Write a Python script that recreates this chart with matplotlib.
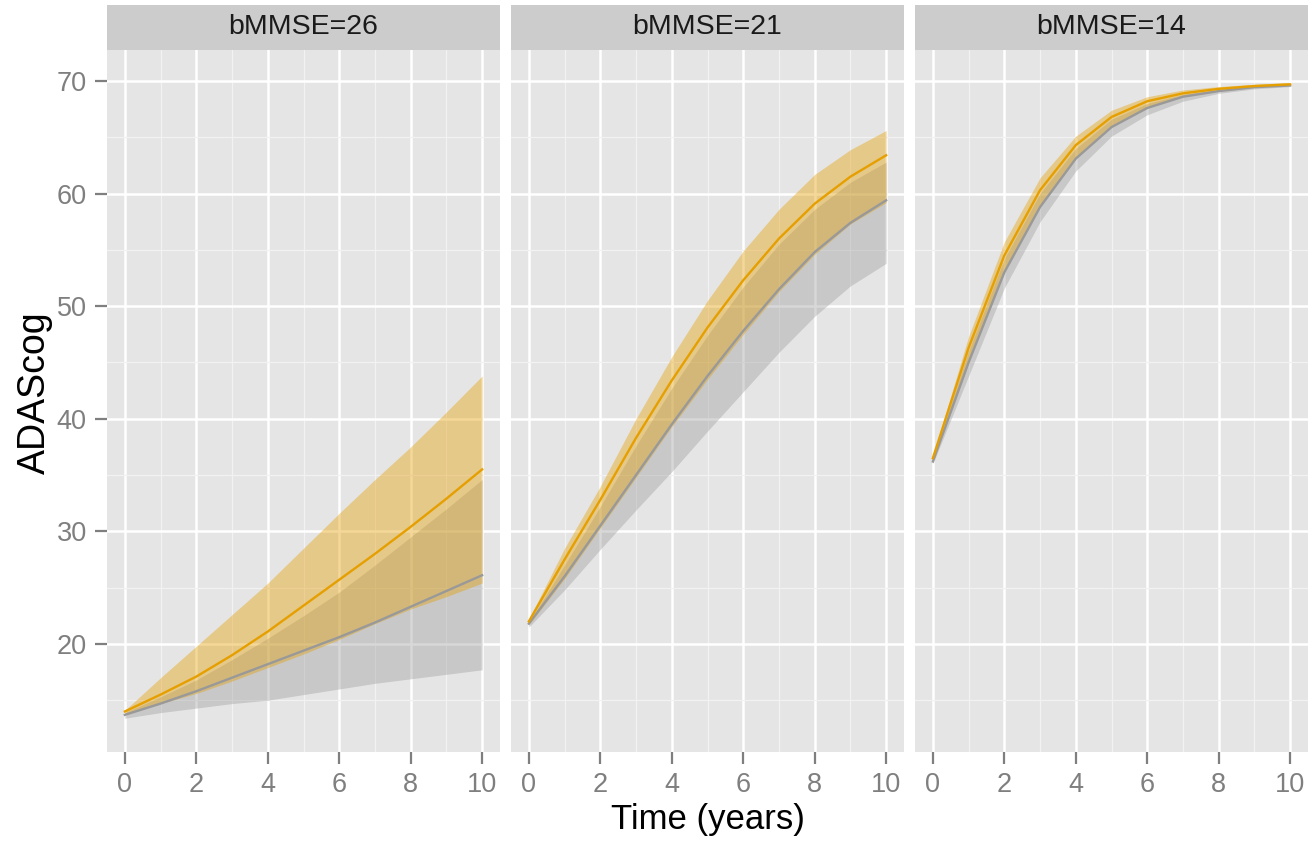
import numpy as np
import matplotlib.pyplot as plt
from matplotlib.patches import Rectangle

plt.rcParams['font.family'] = ['Liberation Sans', 'DejaVu Sans']

# ========== values ==========
time = [0, 1, 2, 3, 4, 5, 6, 7, 8, 9, 10]
panels = ['bMMSE=26', 'bMMSE=21', 'bMMSE=14']

# orange group (mean, lower, upper)
orange_mean = [
    [14.0, 15.5, 17.1, 19.0, 21.1, 23.4, 25.7, 28.0, 30.4, 32.9, 35.5],
    [22.0, 27.5, 32.8, 38.3, 43.4, 48.1, 52.3, 56.0, 59.1, 61.5, 63.4],
    [36.5, 46.3, 54.5, 60.3, 64.3, 66.8, 68.2, 68.9, 69.3, 69.55, 69.7],
]
orange_lo = [
    [13.8, 14.7, 15.6, 16.7, 17.9, 19.1, 20.4, 21.8, 23.1, 24.2, 25.4],
    [21.7, 25.8, 30.3, 34.8, 39.3, 43.5, 47.5, 51.3, 54.6, 57.3, 59.2],
    [36.2, 45.0, 53.0, 58.8, 63.1, 65.9, 67.6, 68.6, 69.1, 69.45, 69.6],
]
orange_hi = [
    [14.1, 17.0, 19.8, 22.6, 25.4, 28.5, 31.6, 34.6, 37.5, 40.6, 43.8],
    [22.2, 28.5, 34.0, 40.0, 45.5, 50.5, 54.9, 58.6, 61.7, 63.9, 65.6],
    [36.7, 47.3, 55.7, 61.4, 65.1, 67.4, 68.6, 69.2, 69.5, 69.7, 69.85],
]

# grey group (mean, lower, upper)
grey_mean = [
    [13.7, 14.7, 15.8, 17.0, 18.2, 19.4, 20.6, 21.9, 23.3, 24.7, 26.1],
    [21.8, 26.0, 30.5, 35.0, 39.5, 43.8, 47.8, 51.5, 54.8, 57.4, 59.4],
    [36.2, 45.0, 53.0, 58.8, 63.1, 65.9, 67.6, 68.6, 69.1, 69.45, 69.6],
]
grey_lo = [
    [13.4, 13.9, 14.3, 14.7, 15.0, 15.5, 16.0, 16.5, 16.9, 17.3, 17.7],
    [21.5, 24.8, 28.4, 31.9, 35.3, 38.9, 42.4, 45.9, 49.1, 51.8, 53.8],
    [36.0, 43.8, 51.6, 57.5, 62.0, 65.1, 67.0, 68.2, 68.9, 69.3, 69.5],
]
grey_hi = [
    [13.9, 15.3, 16.8, 18.6, 20.5, 22.5, 24.6, 27.0, 29.5, 32.0, 34.6],
    [21.9, 27.0, 32.2, 37.6, 42.7, 47.4, 51.7, 55.5, 58.6, 61.0, 62.8],
    [36.4, 46.0, 54.2, 60.0, 64.0, 66.6, 68.0, 68.8, 69.25, 69.5, 69.65],
]

# ========== styling ==========
W, H = 1312, 848
orange = '#E69F00'
grey = '#999999'
panel_left = [107, 511, 915]
panel_w = 393
top, bottom = 50, 752
strip_top = 5

fig = plt.figure(figsize=(W / 100, H / 100), dpi=100)

for i, name in enumerate(panels):
    l = panel_left[i]
    ax = fig.add_axes([l / W, (H - bottom) / H, panel_w / W, (bottom - top) / H])
    ax.set_facecolor('#E5E5E5')
    for s in ax.spines.values():
        s.set_visible(False)

    ax.set_xlim(-0.5, 10.5)
    ax.set_ylim(10.4, 72.75)
    ax.set_xticks([0, 2, 4, 6, 8, 10])
    ax.set_xticks([1, 3, 5, 7, 9], minor=True)
    ax.set_yticks([20, 30, 40, 50, 60, 70])
    ax.set_yticks([15, 25, 35, 45, 55, 65], minor=True)
    ax.grid(which='major', color='white', lw=1.8)
    ax.grid(which='minor', color='#F2F2F2', lw=0.9)
    ax.set_axisbelow(True)
    ax.tick_params(which='minor', length=0)
    ax.tick_params(which='major', length=8.5, width=1.6, color='#7F7F7F',
                   labelcolor='#7F7F7F', labelsize=19.5)
    ax.tick_params(axis='x', pad=6)
    ax.tick_params(axis='y', pad=6)
    if i > 0:
        ax.tick_params(axis='y', left=False, labelleft=False)

    ax.fill_between(time, grey_lo[i], grey_hi[i], color=grey, alpha=0.38, lw=0)
    ax.plot(time, grey_mean[i], color=grey, lw=1.7)
    ax.fill_between(time, orange_lo[i], orange_hi[i], color=orange, alpha=0.4, lw=0)
    ax.plot(time, orange_mean[i], color=orange, lw=1.7)

    # facet strip
    sax = fig.add_axes([l / W, (H - top) / H, panel_w / W, (top - strip_top) / H])
    sax.set_xlim(0, 1)
    sax.set_ylim(0, 1)
    sax.axis('off')
    sax.add_patch(Rectangle((0, 0), 1, 1, color='#CCCCCC', lw=0))
    sax.text(0.5, 0.5, name, ha='center', va='center', fontsize=20.5, color='#1A1A1A')

fig.text(708 / W, 1 - 829 / H, 'Time (years)', ha='center', va='baseline', fontsize=25)
fig.text(35 / W, 1 - 393 / H, 'ADAScog', ha='center', va='center', fontsize=27, rotation=90)

fig.savefig('out.png', dpi=100, facecolor='white')
